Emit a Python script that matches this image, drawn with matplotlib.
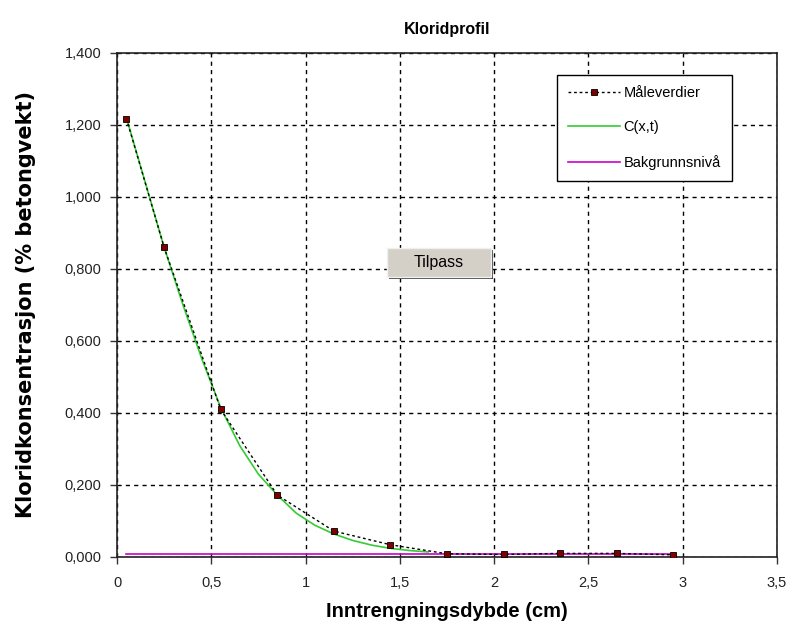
import matplotlib.pyplot as plt
from matplotlib.patches import Rectangle
from matplotlib.ticker import FuncFormatter, MultipleLocator

plt.rcParams['font.family'] = ['Liberation Sans', 'DejaVu Sans']

# measured values (depth in cm, chloride in % of concrete weight)
depth = [0.05, 0.25, 0.55, 0.85, 1.15, 1.45, 1.75, 2.05, 2.35, 2.65, 2.95]
chloride = [1.218, 0.860, 0.410, 0.172, 0.072, 0.034, 0.009, 0.007, 0.010, 0.010, 0.006]

# fitted curve C(x,t)
fit_x = [0.05, 0.15, 0.25, 0.35, 0.45, 0.55, 0.65, 0.75, 0.85, 0.95, 1.05,
         1.15, 1.25, 1.35, 1.45, 1.55, 1.65]
fit_c = [1.220, 1.040, 0.860, 0.700, 0.550, 0.415, 0.310, 0.230, 0.172, 0.122, 0.088,
         0.064, 0.046, 0.033, 0.024, 0.018, 0.014]

# background level
bg_x = [0.05, 2.95]
bg_c = [0.008, 0.008]

fig = plt.figure(figsize=(7.92, 6.37), dpi=100)
ax = fig.add_axes([117 / 792, 80 / 637, 660 / 792, 504 / 637])

ax.plot(bg_x, bg_c, color='#cc00cc', lw=1.2, label='Bakgrunnsnivå', zorder=3)
ax.plot(fit_x, fit_c, color='#33cc33', lw=1.2, label='C(x,t)', zorder=4)
ax.plot(depth, chloride, color='black', ls=(0, (2, 2)), lw=1, marker='s', ms=4,
        mfc='#800000', mec='black', mew=0.6, label='Måleverdier', zorder=5)

ax.set_xlim(0, 3.5)
ax.set_ylim(0, 1.4)
ax.xaxis.set_major_locator(MultipleLocator(0.5))
ax.yaxis.set_major_locator(MultipleLocator(0.2))
ax.xaxis.set_major_formatter(FuncFormatter(lambda v, p: f'{v:g}'.replace('.', ',')))
ax.yaxis.set_major_formatter(FuncFormatter(lambda v, p: f'{v:.3f}'.replace('.', ',')))
ax.grid(True, color='black', ls=(0, (3, 3)), lw=1)
ax.tick_params(labelsize=10.5, length=5, width=1, color='#333333', labelcolor='#222222')
ax.tick_params(axis='x', pad=9)
ax.tick_params(axis='y', pad=6)
for s in ax.spines.values():
    s.set_color('#222222')
    s.set_linewidth(1.2)

ax.set_title('Kloridprofil', fontsize=11.5, fontweight='bold', pad=14)
ax.set_xlabel('Inntrengningsdybde (cm)', fontsize=14.5, fontweight='bold', labelpad=8)
ax.set_ylabel('Kloridkonsentrasjon (% betongvekt)', fontsize=15, fontweight='bold',
              family='DejaVu Sans', labelpad=21)

h, l = ax.get_legend_handles_labels()
leg = ax.legend(h[::-1], l[::-1], loc='upper left', bbox_to_anchor=(557 / 792, 1 - 75 / 637),
                bbox_transform=fig.transFigure, fontsize=10.5, frameon=True, fancybox=False,
                edgecolor='black', framealpha=1, handlelength=3.6, handletextpad=0.2,
                labelspacing=1.4, borderpad=0.75, borderaxespad=0)
leg.get_frame().set_linewidth(1)

# "Tilpass" button
bx, by, bw, bh = 387 / 792, 1 - 277 / 637, 104 / 792, 29 / 637
fig.add_artist(Rectangle((bx + 2 / 792, by - 2 / 637), bw, bh, transform=fig.transFigure,
                         facecolor='#404040', edgecolor='none', zorder=10))
fig.add_artist(Rectangle((bx, by), bw, bh, transform=fig.transFigure,
                         facecolor='#d4d0c8', edgecolor='#f0f0f0', lw=1, zorder=11))
fig.text(bx + bw / 2, by + bh / 2, 'Tilpass', ha='center', va='center', fontsize=11.5,
         color='black', zorder=12)

fig.savefig('out.png', dpi=100)
